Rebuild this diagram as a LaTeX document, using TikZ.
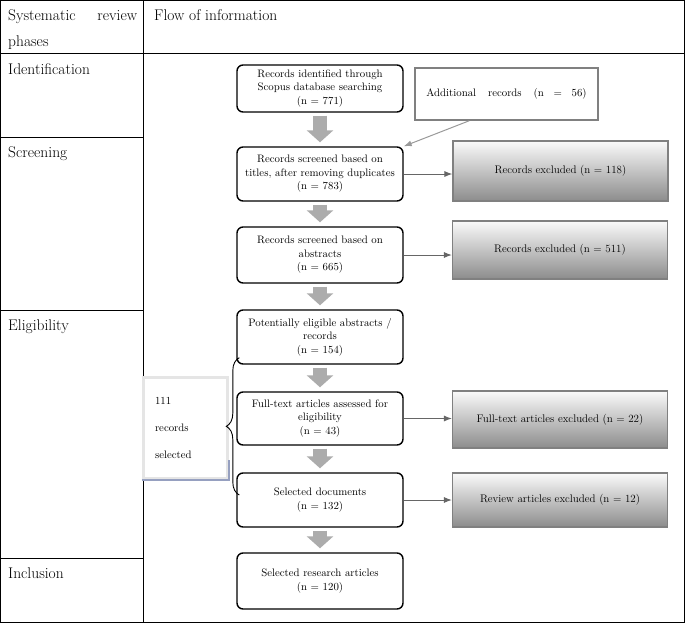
\documentclass[tikz,border=0pt]{standalone}
\usepackage{tikz}
\usetikzlibrary{arrows.meta,decorations.pathreplacing}
\tikzset{>=latex}
\definecolor{edgeblue}{RGB}{150,160,192}
\tikzset{
  phase/.style={anchor=base west,inner sep=0pt,font=\fontsize{15.5}{18}\selectfont},
  flowbox/.style={draw,line width=1.4pt,rounded corners=6pt,fill=white,align=center,
    text width=158pt,inner xsep=4pt,minimum height=54pt,font=\fontsize{10.8}{13.5}\selectfont},
  exbox/.style={draw=black!50,line width=1.1pt,top color=gray!4,bottom color=black!45,
    minimum width=215pt,align=center,font=\fontsize{11}{13.5}\selectfont},
  bigarr/.style={draw=gray!65,line width=14pt,-{Triangle[width=26pt,length=12pt]},
    shorten <=3pt,shorten >=4pt},
  thinarr/.style={draw=black!60,line width=1pt,-{Latex[length=8pt,width=6pt]}}
}
\begin{document}
\begin{tikzpicture}[x=1pt,y=-1pt]
\useasboundingbox (0,0) rectangle (685,624);
\draw[line width=0.8pt] (0.5,0.5) rectangle (684,622);
\draw[line width=0.8pt] (0.5,53) -- (684,53);
\draw[line width=0.8pt] (143.5,0.5) -- (143.5,622);
\draw[line width=0.8pt] (0.5,137) -- (143.5,137);
\draw[line width=0.8pt] (0.5,310) -- (143.5,310);
\draw[line width=0.8pt] (0.5,558) -- (143.5,558);

\node[phase] (hdrA) at (8,20) {\makebox[129pt][s]{Systematic review}};
\node[phase] (hdrB) at (8,46) {phases};
\node[phase] (hdrC) at (154,20) {Flow of information};
\node[phase] (ident) at (8,74) {Identification};
\node[phase] (screen) at (8,157) {Screening};
\node[phase] (elig) at (8,330) {Eligibility};
\node[phase] (incl) at (8,578) {Inclusion};

\node[flowbox,minimum height=47pt] (b1) at (320,88.5) {Records identified through\\Scopus database searching\\(n = 771)};
\node[draw=black!50,line width=1.5pt,fill=white,minimum width=183pt,minimum height=52pt,
  font=\fontsize{10.8}{13.5}\selectfont] (b2) at (506.5,94)
  {Additional\hspace{1.1em}records\hspace{1.1em}(n\hspace{0.9em}=\hspace{0.9em}56)};
\node[flowbox] (b3) at (320,174) {Records screened based on\\titles, after removing duplicates\\(n = 783)};
\node[flowbox,minimum height=56pt] (b4) at (320,255) {Records screened based on\\abstracts\\(n = 665)};
\node[flowbox] (b5) at (320,337) {Potentially eligible abstracts /\\records\\(n = 154)};
\node[flowbox,minimum height=53pt] (b6) at (320,418.5) {Full-text articles assessed for\\eligibility\\(n = 43)};
\node[flowbox] (b7) at (320,500) {Selected documents\\(n = 132)};
\node[flowbox,minimum height=56pt] (b8) at (320,581) {Selected research articles\\(n = 120)};

\node[exbox,minimum height=60pt] (r1) at (560.5,171) {Records excluded (n = 118)};
\node[exbox,minimum height=58pt] (r2) at (560,250) {Records excluded (n = 511)};
\node[exbox,minimum height=57pt] (r3) at (560,419.5) {Full-text articles excluded (n = 22)};
\node[exbox,minimum height=54pt] (r4) at (560,500) {Review articles excluded (n = 12)};

\node[draw=gray!20,line width=3pt,fill=white,minimum width=84pt,minimum height=101pt,
  inner xsep=12pt,text width=60pt,align=left,font=\fontsize{10.8}{27}\selectfont] (sel) at (185,427.5)
  {111\\records\\selected};
\draw[edgeblue,line width=2pt] (sel.south west) -- (sel.south east) -- ([yshift=20pt]sel.south east);

\draw[bigarr] (b1) -- (b3);
\draw[bigarr] (b3) -- (b4);
\draw[bigarr] (b4) -- (b5);
\draw[bigarr] (b5) -- (b6);
\draw[bigarr] (b6) -- (b7);
\draw[bigarr] (b7) -- (b8);

\draw[thinarr,draw=gray!80] ([xshift=55pt]b2.south west) -- (b3.north east);
\draw[thinarr] (b3.east) -- (b3.east -| r1.west);
\draw[thinarr] (b4.east) -- (b4.east -| r2.west);
\draw[thinarr] (b6.east) -- (b6.east -| r3.west);
\draw[thinarr] (b7.east) -- (b7.east -| r4.west);

\coordinate (bt) at ([xshift=3pt,yshift=7pt]b5.south west);
\coordinate (bb) at ([xshift=3pt,yshift=5pt]b7.west);
\draw[line width=0.9pt,decorate,decoration={brace,amplitude=13pt}] (bb) -- (bt);
\end{tikzpicture}
\end{document}
